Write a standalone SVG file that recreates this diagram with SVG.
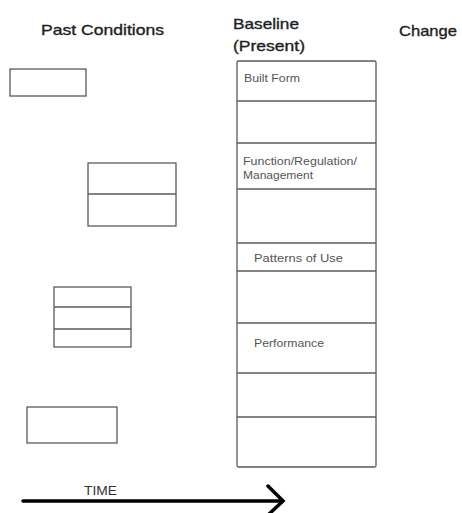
<svg xmlns="http://www.w3.org/2000/svg" width="462" height="513" viewBox="0 0 462 513">
  <style>
    .box { fill: #ffffff; stroke: #5a5a5a; stroke-width: 1.3; }
    .div { stroke: #5a5a5a; stroke-width: 1.3; fill: none; }
    .head { font-family: "Liberation Sans", Arial, sans-serif; font-size: 15px; fill: #1e1e1e; stroke: #1e1e1e; stroke-width: 0.35; }
    .lbl { font-family: "Liberation Sans", Arial, sans-serif; font-size: 10px; fill: #555555; }
    .time { font-family: "Liberation Sans", Arial, sans-serif; font-size: 13px; fill: #333333; }
    .arrow { stroke: #000000; stroke-width: 3.5; fill: none; stroke-linecap: round; stroke-linejoin: miter; }
  </style>
  <rect width="462" height="513" fill="#ffffff"/>

  <!-- column headings -->
  <g id="headings">
    <text class="head" x="41" y="35" textLength="123" lengthAdjust="spacingAndGlyphs">Past Conditions</text>
    <text class="head" x="233" y="29" textLength="66" lengthAdjust="spacingAndGlyphs">Baseline</text>
    <text class="head" x="233" y="51" textLength="72" lengthAdjust="spacingAndGlyphs">(Present)</text>
    <text class="head" x="399" y="36" textLength="58" lengthAdjust="spacingAndGlyphs">Change</text>
  </g>

  <!-- past condition boxes -->
  <g id="past-1">
    <rect class="box" x="10" y="69" width="76" height="27"/>
  </g>
  <g id="past-2">
    <rect class="box" x="88" y="163" width="88" height="63"/>
    <line class="div" x1="88" y1="194" x2="176" y2="194"/>
  </g>
  <g id="past-3">
    <rect class="box" x="54" y="287" width="77" height="60"/>
    <line class="div" x1="54" y1="307" x2="131" y2="307"/>
    <line class="div" x1="54" y1="329" x2="131" y2="329"/>
  </g>
  <g id="past-4">
    <rect class="box" x="27" y="407" width="90" height="36"/>
  </g>

  <!-- baseline column -->
  <g id="baseline">
    <rect class="box" x="237" y="61" width="139" height="406" rx="1.5"/>
    <line class="div" x1="237" y1="101" x2="376" y2="101"/>
    <line class="div" x1="237" y1="143" x2="376" y2="143"/>
    <line class="div" x1="237" y1="189" x2="376" y2="189"/>
    <line class="div" x1="237" y1="243" x2="376" y2="243"/>
    <line class="div" x1="237" y1="271" x2="376" y2="271"/>
    <line class="div" x1="237" y1="323" x2="376" y2="323"/>
    <line class="div" x1="237" y1="373" x2="376" y2="373"/>
    <line class="div" x1="237" y1="417" x2="376" y2="417"/>
    <text class="lbl" x="244" y="82" textLength="56" lengthAdjust="spacingAndGlyphs">Built Form</text>
    <text class="lbl" x="243" y="165" textLength="114" lengthAdjust="spacingAndGlyphs">Function/Regulation/</text>
    <text class="lbl" x="243" y="179" textLength="70" lengthAdjust="spacingAndGlyphs">Management</text>
    <text class="lbl" x="254" y="262" textLength="89" lengthAdjust="spacingAndGlyphs">Patterns of  Use</text>
    <text class="lbl" x="254" y="347" textLength="70" lengthAdjust="spacingAndGlyphs">Performance</text>
  </g>

  <!-- time axis -->
  <g id="connectors">
    <line class="arrow" x1="23" y1="501" x2="282" y2="501"/>
    <polyline class="arrow" points="268,486 283,501 268,515"/>
  </g>
  <g id="time-label">
    <text class="time" x="84" y="495" textLength="33" lengthAdjust="spacingAndGlyphs">TIME</text>
  </g>
</svg>
